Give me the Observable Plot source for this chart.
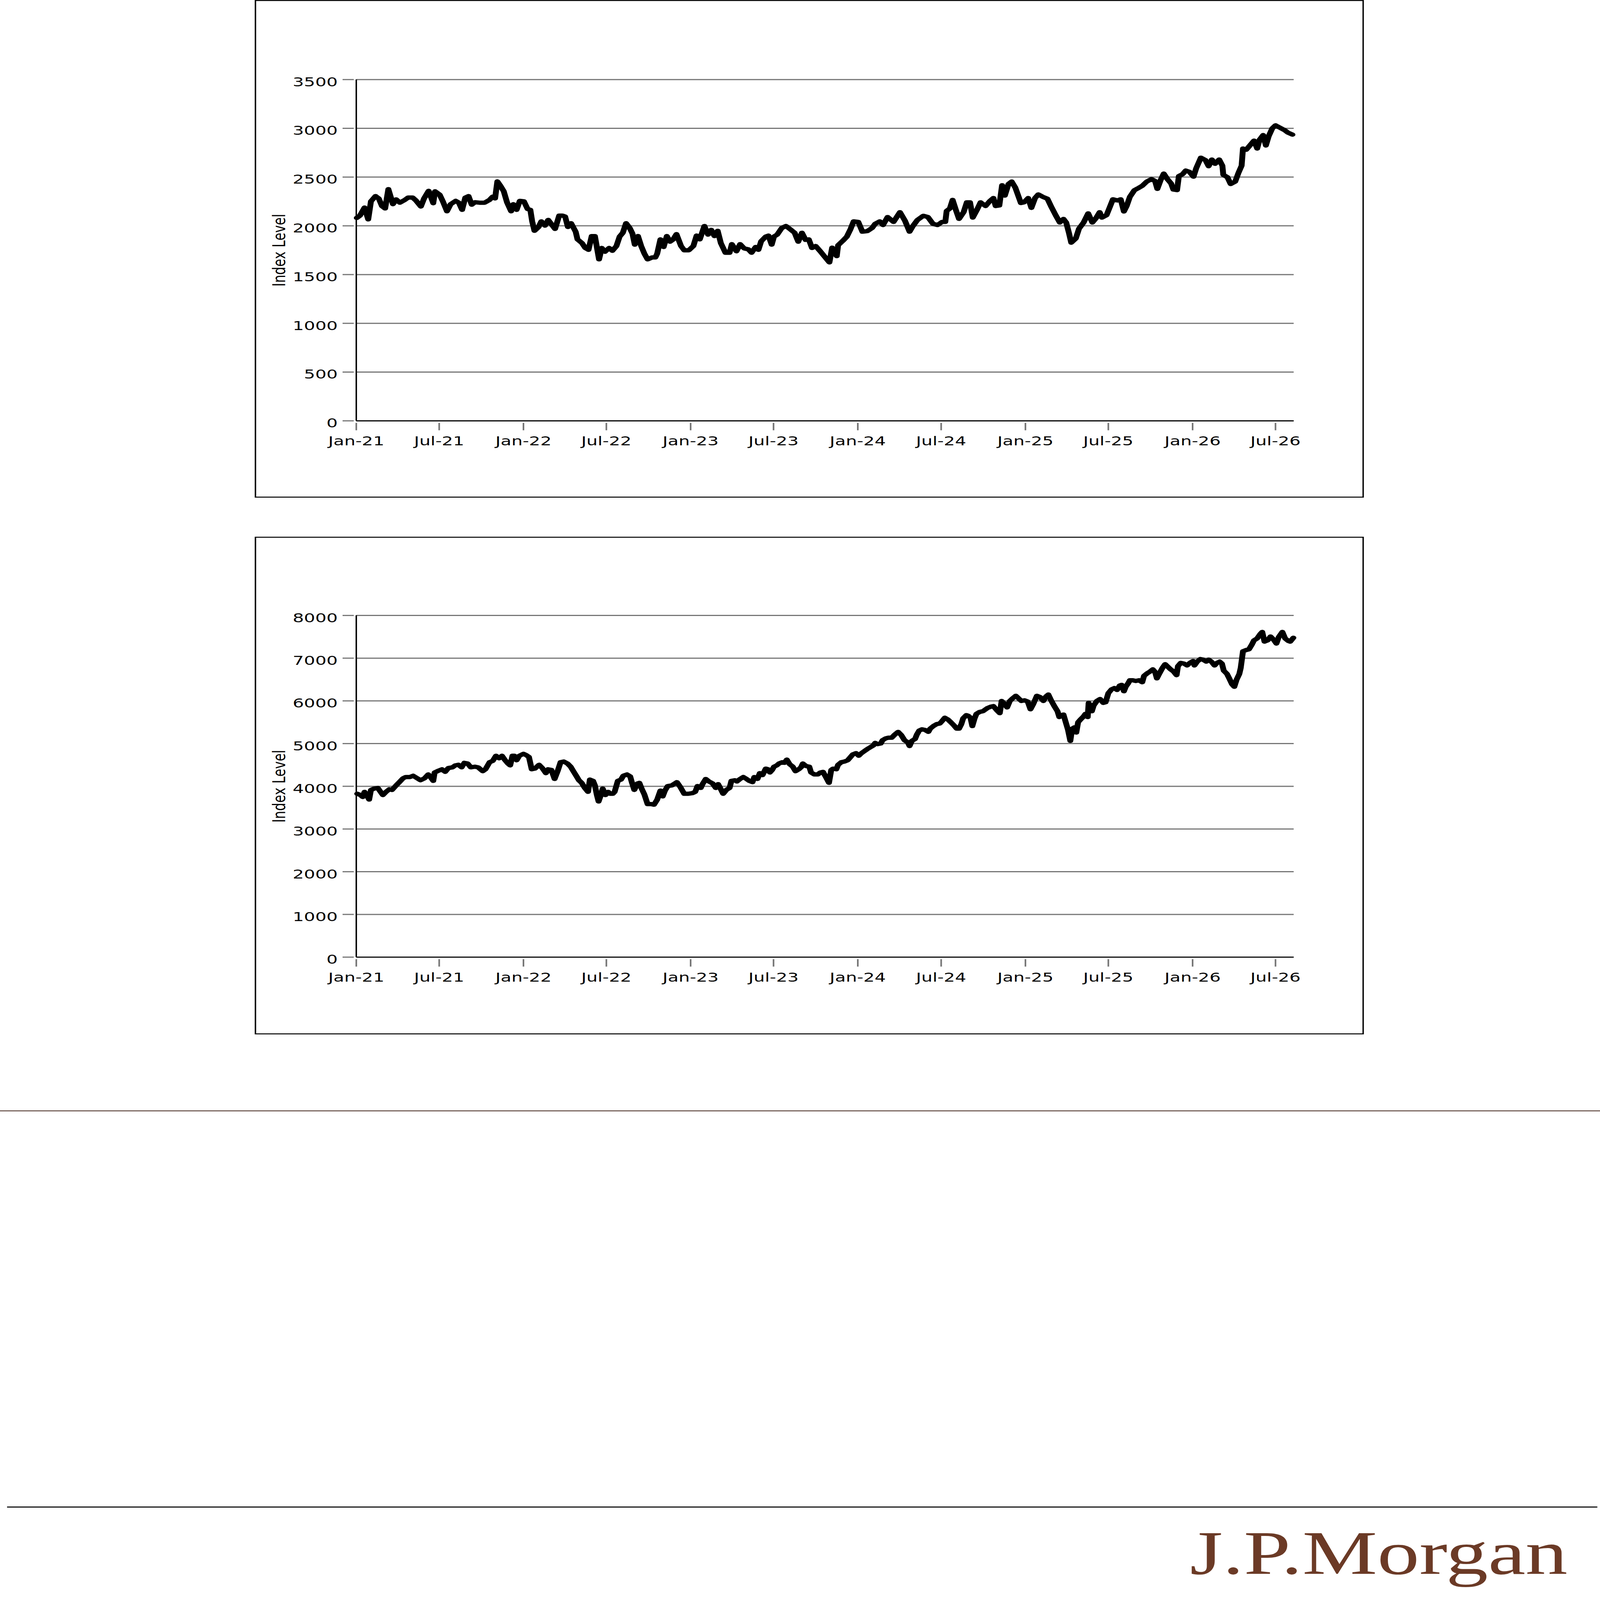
<!DOCTYPE html>
<html>
<head>
<meta charset="utf-8">
<script src="https://cdn.jsdelivr.net/npm/d3@7"></script>
<script src="https://cdn.jsdelivr.net/npm/@observablehq/plot@0.6"></script>
<style>
  html, body { margin: 0; padding: 0; background: #ffffff; overflow: hidden; }
  #page { position: absolute; left: 0; top: 0; width: 5427px; height: 7530px; background: #ffffff; overflow: hidden; transform-origin: 0 0; }
  .box { position: absolute; left: 864px; width: 3752px; height: 2332px; border: 5px solid #000; background: #fff; }
  .box svg { display: block; }
</style>
</head>
<body>
<div id="page">
  <div class="box" id="chart1" style="top:0px"></div>
  <div class="box" id="chart2" style="top:2526px"></div>
  <div style="position:absolute;left:0;top:5226px;width:5427px;height:4px;background:#4e3229"></div>
  <div style="position:absolute;left:24px;top:7090px;width:5394px;height:5px;background:#000"></div>
  <svg style="position:absolute;left:4000px;top:7110px;overflow:visible" width="1427" height="400">
    <text x="36" y="297" font-family="Liberation Serif, DejaVu Serif, serif" font-size="293" fill="#6b3a26" textLength="1281" lengthAdjust="spacingAndGlyphs">J.P.Morgan</text>
  </svg>
</div>
<script>
// ---------- data ----------
const axisLabel = "Index Level";
const xStart = "2021-01-01";
const xEnd = "2026-08-10";
const xTickDates = ["2021-01-01","2021-07-01","2022-01-01","2022-07-01","2023-01-01","2023-07-01",
  "2024-01-01","2024-07-01","2025-01-01","2025-07-01","2026-01-01","2026-07-01"];
const topYTicks = [0, 500, 1000, 1500, 2000, 2500, 3000, 3500];
const bottomYTicks = [0, 1000, 2000, 3000, 4000, 5000, 6000, 7000, 8000];

const topDates = ["2021-01-02","2021-01-09","2021-01-19","2021-01-27","2021-02-02","2021-02-12","2021-02-19","2021-02-26","2021-03-05","2021-03-12","2021-03-22","2021-03-29","2021-04-06","2021-04-17","2021-04-24","2021-05-04","2021-05-11","2021-05-22","2021-05-29","2021-06-08","2021-06-18","2021-06-22","2021-07-02","2021-07-09","2021-07-18","2021-07-26","2021-08-06","2021-08-13","2021-08-20","2021-08-27","2021-09-03","2021-09-10","2021-09-17","2021-09-27","2021-10-08","2021-10-19","2021-10-26","2021-10-31","2021-11-05","2021-11-12","2021-11-19","2021-11-26","2021-12-05","2021-12-10","2021-12-17","2021-12-24","2022-01-02","2022-01-10","2022-01-16","2022-01-20","2022-01-25","2022-02-03","2022-02-09","2022-02-17","2022-02-24","2022-03-03","2022-03-11","2022-03-20","2022-03-27","2022-04-02","2022-04-08","2022-04-15","2022-04-25","2022-04-29","2022-05-09","2022-05-16","2022-05-23","2022-05-30","2022-06-06","2022-06-15","2022-06-21","2022-06-28","2022-07-07","2022-07-14","2022-07-23","2022-07-30","2022-08-06","2022-08-13","2022-08-21","2022-08-27","2022-09-01","2022-09-08","2022-09-15","2022-09-22","2022-09-29","2022-10-09","2022-10-16","2022-10-20","2022-10-27","2022-11-03","2022-11-10","2022-11-17","2022-11-24","2022-12-01","2022-12-11","2022-12-18","2022-12-28","2023-01-07","2023-01-14","2023-01-21","2023-01-31","2023-02-08","2023-02-15","2023-02-22","2023-03-01","2023-03-08","2023-03-18","2023-03-27","2023-04-01","2023-04-11","2023-04-19","2023-04-28","2023-05-07","2023-05-14","2023-05-23","2023-05-29","2023-06-04","2023-06-14","2023-06-20","2023-06-27","2023-07-02","2023-07-09","2023-07-19","2023-07-28","2023-08-08","2023-08-16","2023-08-24","2023-09-01","2023-09-09","2023-09-16","2023-09-23","2023-10-01","2023-10-11","2023-10-22","2023-10-31","2023-11-06","2023-11-16","2023-11-19","2023-11-29","2023-12-08","2023-12-16","2023-12-23","2024-01-02","2024-01-11","2024-01-22","2024-02-01","2024-02-08","2024-02-18","2024-02-25","2024-03-06","2024-03-19","2024-04-02","2024-04-13","2024-04-23","2024-04-30","2024-05-10","2024-05-23","2024-06-02","2024-06-13","2024-06-23","2024-07-03","2024-07-10","2024-07-13","2024-07-20","2024-07-26","2024-08-02","2024-08-09","2024-08-19","2024-08-26","2024-09-02","2024-09-08","2024-09-18","2024-09-25","2024-10-06","2024-10-15","2024-10-23","2024-10-28","2024-11-05","2024-11-11","2024-11-17","2024-11-25","2024-12-02","2024-12-10","2024-12-22","2024-12-29","2025-01-07","2025-01-14","2025-01-22","2025-01-29","2025-02-08","2025-02-18","2025-02-27","2025-03-08","2025-03-17","2025-03-25","2025-03-31","2025-04-06","2025-04-11","2025-04-21","2025-04-28","2025-05-08","2025-05-18","2025-05-27","2025-06-04","2025-06-12","2025-06-17","2025-06-27","2025-07-04","2025-07-11","2025-07-21","2025-07-28","2025-08-04","2025-08-10","2025-08-17","2025-08-27","2025-09-06","2025-09-13","2025-09-23","2025-10-03","2025-10-11","2025-10-16","2025-10-23","2025-10-30","2025-11-07","2025-11-15","2025-11-20","2025-11-28","2025-12-02","2025-12-10","2025-12-17","2025-12-25","2026-01-03","2026-01-09","2026-01-19","2026-01-29","2026-02-05","2026-02-12","2026-02-19","2026-02-28","2026-03-07","2026-03-09","2026-03-18","2026-03-25","2026-04-04","2026-04-11","2026-04-18","2026-04-21","2026-04-28","2026-05-05","2026-05-15","2026-05-22","2026-05-27","2026-06-04","2026-06-10","2026-06-16","2026-06-24","2026-07-01","2026-07-11","2026-07-21","2026-07-28","2026-08-07"];
const topValues = [2081,2105,2188,2066,2251,2305,2281,2203,2178,2376,2222,2271,2237,2266,2290,2290,2261,2198,2281,2359,2232,2354,2320,2251,2149,2222,2256,2237,2164,2290,2305,2217,2242,2237,2237,2266,2300,2281,2456,2408,2354,2242,2149,2222,2164,2256,2251,2173,2164,2046,1949,1988,2046,2002,2061,2017,1968,2105,2105,2095,1988,2027,1939,1861,1822,1773,1754,1895,1895,1656,1773,1734,1773,1744,1793,1890,1929,2027,1978,1920,1807,1895,1793,1715,1656,1676,1676,1715,1861,1783,1895,1837,1861,1915,1793,1749,1749,1793,1900,1861,1998,1910,1959,1895,1949,1822,1724,1724,1812,1739,1812,1768,1759,1724,1783,1754,1842,1890,1900,1807,1890,1910,1978,1998,1959,1929,1837,1929,1856,1861,1773,1793,1739,1676,1625,1776,1689,1801,1845,1889,1965,2046,2040,1940,1946,1977,2021,2046,2008,2090,2040,2140,2052,1940,1996,2059,2103,2090,2021,2008,2040,2040,2153,2178,2266,2165,2071,2140,2241,2241,2084,2172,2241,2203,2253,2285,2203,2209,2416,2310,2429,2454,2391,2234,2241,2285,2184,2285,2322,2297,2278,2190,2109,2034,2071,2034,1927,1827,1871,1971,2034,2128,2034,2078,2140,2084,2109,2190,2272,2260,2272,2147,2203,2297,2366,2391,2410,2454,2479,2460,2379,2467,2536,2479,2435,2372,2366,2510,2529,2567,2554,2504,2592,2699,2674,2611,2680,2636,2680,2617,2523,2498,2429,2454,2542,2617,2793,2780,2818,2874,2793,2881,2931,2824,2918,3000,3031,3006,2981,2956,2935];

const bottomDates = ["2021-01-03","2021-01-10","2021-01-15","2021-01-19","2021-01-24","2021-01-29","2021-02-02","2021-02-09","2021-02-17","2021-02-24","2021-02-28","2021-03-07","2021-03-14","2021-03-20","2021-03-29","2021-04-05","2021-04-13","2021-04-19","2021-04-28","2021-05-05","2021-05-12","2021-05-21","2021-05-30","2021-06-07","2021-06-12","2021-06-18","2021-06-21","2021-06-30","2021-07-07","2021-07-14","2021-07-21","2021-07-30","2021-08-05","2021-08-12","2021-08-19","2021-08-25","2021-09-01","2021-09-08","2021-09-17","2021-09-24","2021-10-04","2021-10-10","2021-10-19","2021-10-26","2021-11-02","2021-11-09","2021-11-15","2021-11-22","2021-11-28","2021-12-03","2021-12-08","2021-12-12","2021-12-17","2021-12-23","2022-01-01","2022-01-07","2022-01-13","2022-01-19","2022-01-26","2022-02-04","2022-02-11","2022-02-19","2022-02-24","2022-03-03","2022-03-10","2022-03-17","2022-03-23","2022-03-30","2022-04-07","2022-04-14","2022-04-20","2022-04-27","2022-05-02","2022-05-08","2022-05-15","2022-05-22","2022-05-26","2022-06-02","2022-06-06","2022-06-10","2022-06-14","2022-06-19","2022-06-23","2022-06-29","2022-07-05","2022-07-09","2022-07-15","2022-07-19","2022-07-26","2022-08-02","2022-08-07","2022-08-11","2022-08-15","2022-08-22","2022-08-26","2022-08-31","2022-09-07","2022-09-11","2022-09-16","2022-09-22","2022-09-29","2022-10-07","2022-10-13","2022-10-20","2022-10-27","2022-11-01","2022-11-06","2022-11-12","2022-11-21","2022-12-02","2022-12-09","2022-12-18","2022-12-27","2023-01-05","2023-01-11","2023-01-16","2023-01-23","2023-01-27","2023-02-03","2023-02-10","2023-02-18","2023-02-25","2023-03-02","2023-03-08","2023-03-13","2023-03-20","2023-03-27","2023-03-31","2023-04-08","2023-04-12","2023-04-19","2023-04-26","2023-05-03","2023-05-09","2023-05-16","2023-05-20","2023-05-27","2023-06-01","2023-06-07","2023-06-14","2023-06-19","2023-06-23","2023-06-28","2023-07-02","2023-07-08","2023-07-13","2023-07-20","2023-07-25","2023-07-30","2023-08-05","2023-08-12","2023-08-18","2023-08-25","2023-08-30","2023-09-03","2023-09-10","2023-09-17","2023-09-21","2023-09-28","2023-10-06","2023-10-11","2023-10-17","2023-10-24","2023-10-30","2023-11-04","2023-11-08","2023-11-15","2023-11-19","2023-11-26","2023-12-03","2023-12-10","2023-12-16","2023-12-21","2023-12-28","2024-01-03","2024-01-09","2024-01-15","2024-01-21","2024-01-28","2024-02-04","2024-02-08","2024-02-13","2024-02-20","2024-02-24","2024-03-02","2024-03-08","2024-03-15","2024-03-22","2024-03-29","2024-04-05","2024-04-12","2024-04-19","2024-04-23","2024-04-28","2024-05-05","2024-05-09","2024-05-14","2024-05-20","2024-05-27","2024-06-03","2024-06-07","2024-06-14","2024-06-21","2024-06-28","2024-07-02","2024-07-09","2024-07-16","2024-07-22","2024-07-29","2024-08-04","2024-08-09","2024-08-14","2024-08-18","2024-08-25","2024-08-29","2024-09-03","2024-09-07","2024-09-12","2024-09-16","2024-09-23","2024-09-30","2024-10-10","2024-10-17","2024-10-23","2024-10-30","2024-11-06","2024-11-10","2024-11-17","2024-11-22","2024-11-28","2024-12-04","2024-12-11","2024-12-17","2024-12-23","2024-12-30","2025-01-06","2025-01-12","2025-01-18","2025-01-26","2025-02-02","2025-02-09","2025-02-15","2025-02-20","2025-02-26","2025-03-05","2025-03-12","2025-03-16","2025-03-21","2025-03-25","2025-03-30","2025-04-04","2025-04-09","2025-04-13","2025-04-18","2025-04-22","2025-04-26","2025-05-01","2025-05-08","2025-05-12","2025-05-17","2025-05-19","2025-05-26","2025-05-30","2025-06-06","2025-06-13","2025-06-20","2025-06-25","2025-07-01","2025-07-08","2025-07-14","2025-07-20","2025-07-26","2025-07-30","2025-08-04","2025-08-08","2025-08-13","2025-08-17","2025-08-24","2025-08-30","2025-09-06","2025-09-13","2025-09-17","2025-09-24","2025-09-29","2025-10-06","2025-10-11","2025-10-15","2025-10-20","2025-10-27","2025-11-02","2025-11-08","2025-11-14","2025-11-20","2025-11-27","2025-11-30","2025-12-06","2025-12-13","2025-12-20","2025-12-26","2026-01-02","2026-01-05","2026-01-11","2026-01-18","2026-01-24","2026-01-31","2026-02-05","2026-02-11","2026-02-18","2026-02-23","2026-03-01","2026-03-06","2026-03-10","2026-03-17","2026-03-22","2026-03-28","2026-04-02","2026-04-07","2026-04-13","2026-04-16","2026-04-21","2026-04-28","2026-05-04","2026-05-10","2026-05-15","2026-05-22","2026-05-29","2026-06-02","2026-06-07","2026-06-14","2026-06-20","2026-06-27","2026-07-03","2026-07-08","2026-07-16","2026-07-22","2026-07-29","2026-08-02","2026-08-09"];
const bottomValues = [3825,3795,3749,3870,3795,3689,3915,3946,3961,3855,3795,3870,3930,3915,4021,4097,4187,4217,4217,4247,4202,4142,4187,4278,4217,4127,4323,4368,4398,4338,4428,4444,4489,4504,4444,4549,4534,4444,4459,4444,4353,4398,4564,4595,4715,4655,4715,4610,4534,4489,4715,4715,4610,4715,4761,4730,4685,4398,4414,4504,4428,4308,4398,4383,4172,4368,4564,4580,4534,4459,4353,4232,4142,4081,3961,3870,4157,4127,4021,3810,3644,3795,3946,3795,3870,3825,3825,3870,4127,4157,4247,4262,4278,4232,4081,3915,4066,4081,3946,3810,3583,3583,3568,3689,3900,3764,3900,4006,4021,4097,3991,3825,3825,3840,3870,4006,3961,4051,4172,4112,4066,3961,4051,3930,3825,3915,3961,4127,4142,4112,4172,4217,4172,4127,4097,4217,4172,4308,4262,4414,4398,4323,4383,4459,4489,4534,4564,4549,4625,4519,4459,4353,4398,4444,4534,4474,4459,4323,4278,4278,4323,4338,4202,4081,4383,4414,4398,4504,4564,4580,4610,4685,4746,4776,4715,4776,4821,4866,4912,4957,5017,4987,5002,5078,5123,5138,5138,5213,5274,5198,5078,5032,4942,5063,5108,5213,5304,5334,5319,5274,5349,5410,5455,5470,5515,5606,5561,5500,5425,5349,5349,5455,5591,5666,5651,5606,5410,5591,5697,5742,5757,5832,5863,5878,5787,5712,5998,5923,5847,5998,6059,6119,6059,5998,6013,5983,5802,5923,6119,6089,5998,6104,6149,6013,5878,5757,5621,5666,5681,5500,5319,5063,5349,5380,5259,5500,5561,5636,5697,5621,5953,5757,5893,5998,6044,5953,5968,6180,6270,6300,6255,6361,6376,6225,6331,6406,6482,6482,6466,6482,6436,6587,6647,6678,6738,6678,6527,6632,6768,6859,6798,6738,6693,6602,6813,6889,6874,6829,6889,6934,6829,6919,6980,6965,6919,6965,6919,6829,6889,6919,6874,6708,6632,6527,6391,6330,6497,6632,6768,7161,7191,7206,7312,7417,7463,7568,7614,7387,7417,7508,7432,7342,7493,7614,7463,7402,7387,7478];

// ---------- drawing ----------
const parse = d3.utcParse("%Y-%m-%d");
const fmtX = d3.utcFormat("%b-%y");
const GRID = "#767676";

function makeChart(dates, values, yTicks, marginTop, marginBottom) {
  const data = dates.map((d, i) => ({date: parse(d), value: values[i]}));
  const xTicks = xTickDates.map(parse);
  const yMax = yTicks[yTicks.length - 1];
  return Plot.plot({
    width: 3752,
    height: 2332,
    marginLeft: 339,
    marginRight: 233,
    marginTop,
    marginBottom,
    style: {fontFamily: "'DejaVu Sans', sans-serif", fontSize: "60px", color: "#000", background: "#fff", overflow: "visible"},
    x: {type: "utc", domain: [parse(xStart), parse(xEnd)], label: null},
    y: {domain: [0, yMax], label: null},
    marks: [
      Plot.gridY(yTicks, {stroke: GRID, strokeOpacity: 1, strokeWidth: 5.5}),
      Plot.axisY(yTicks, {tickSize: 38, dx: -8, stroke: GRID, strokeWidth: 5.5, fill: "none", label: null}),
      Plot.axisY(yTicks, {tickSize: 0, tickPadding: 55, dx: -8, dy: 12, tickFormat: d => String(d), label: null}),
      Plot.axisX(xTicks, {tickSize: 35, dy: 10, stroke: GRID, strokeWidth: 5.5, fill: "none", label: null}),
      Plot.axisX(xTicks, {tickSize: 0, tickPadding: 73, tickFormat: fmtX, label: null}),
      Plot.ruleY([0], {stroke: "#000", strokeWidth: 5}),
      Plot.ruleX([parse(xStart)], {stroke: "#000", strokeWidth: 5}),
      Plot.line(data, {x: "date", y: "value", stroke: "#000", strokeWidth: 20, strokeLinejoin: "round", strokeLinecap: "round"}),
      Plot.text([axisLabel], {frameAnchor: "left", text: d => d, rotate: -90, textAnchor: "middle", lineAnchor: "middle", dx: -260, fontSize: 60, fill: "#000"})
    ]
  });
}

document.getElementById("chart1").appendChild(makeChart(topDates, topValues, topYTicks, 369, 357));
document.getElementById("chart2").appendChild(makeChart(bottomDates, bottomValues, bottomYTicks, 365, 359));

// map the 5427 x 7530 page onto the browser's actual viewport
function fitPage() {
  const page = document.getElementById("page");
  const sx = window.innerWidth / 5427;
  const sy = window.innerHeight / 7530;
  page.style.transform = `scale(${sx}, ${sy})`;
}
fitPage();
window.addEventListener("resize", fitPage);
</script>
</body>
</html>
